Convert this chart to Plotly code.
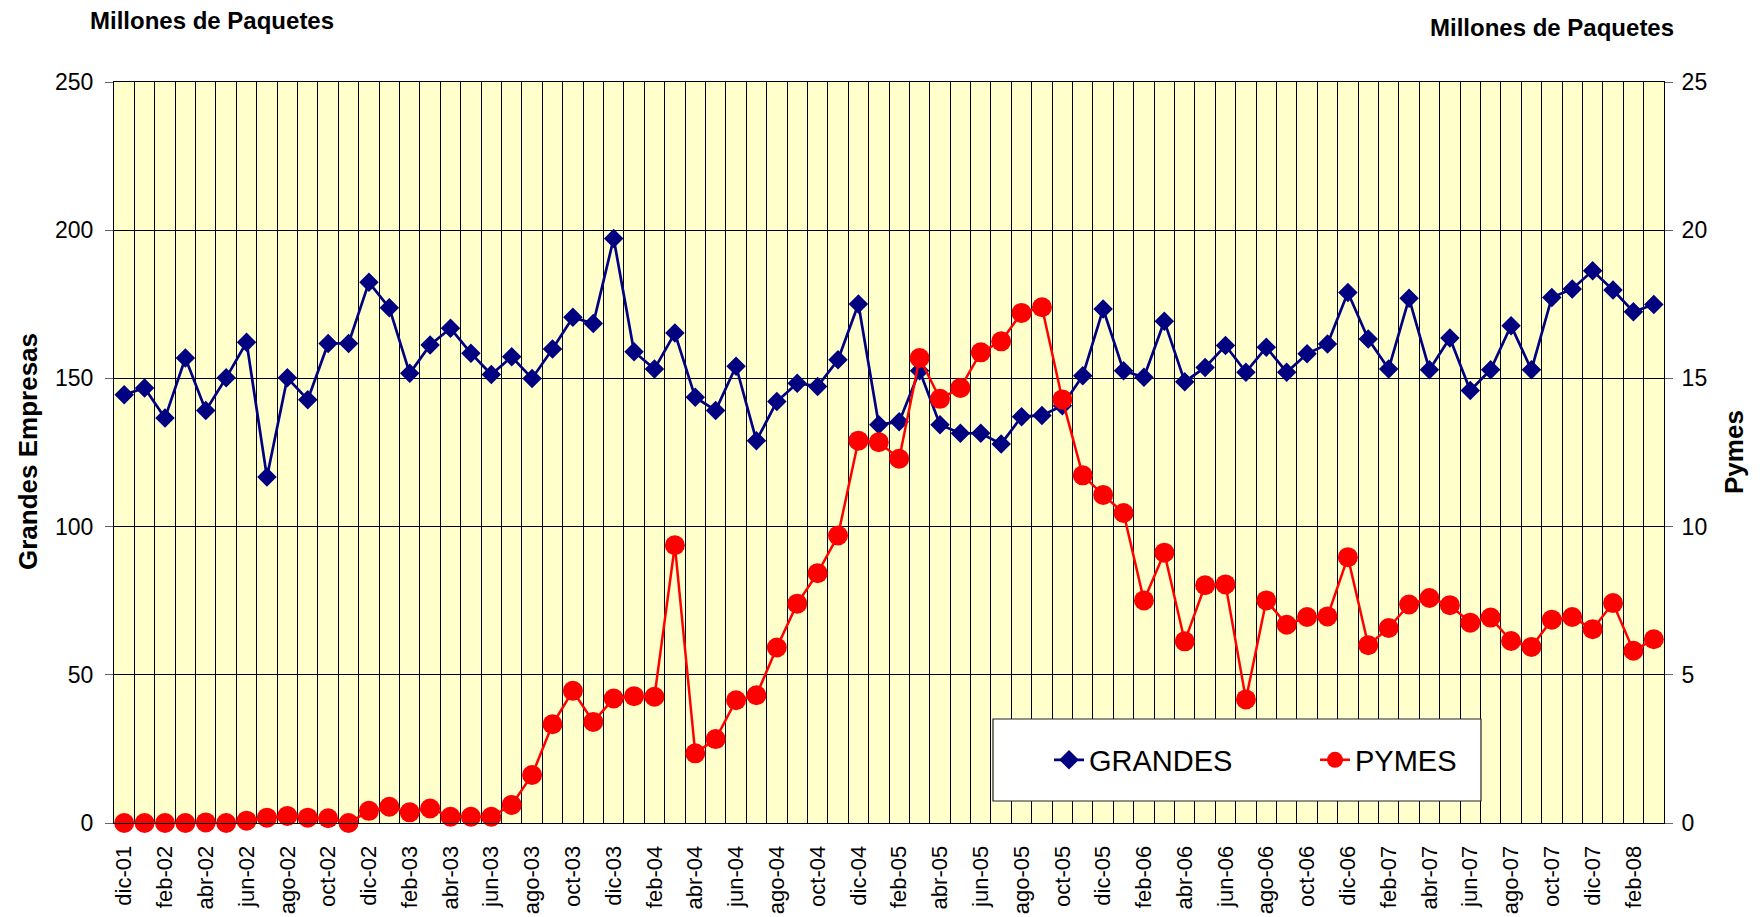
import plotly.graph_objects as go

meses = [
    "dic-01", "ene-02", "feb-02", "mar-02", "abr-02", "may-02", "jun-02", "jul-02", "ago-02", "sep-02", "oct-02", "nov-02",
    "dic-02", "ene-03", "feb-03", "mar-03", "abr-03", "may-03", "jun-03", "jul-03", "ago-03", "sep-03", "oct-03", "nov-03",
    "dic-03", "ene-04", "feb-04", "mar-04", "abr-04", "may-04", "jun-04", "jul-04", "ago-04", "sep-04", "oct-04", "nov-04",
    "dic-04", "ene-05", "feb-05", "mar-05", "abr-05", "may-05", "jun-05", "jul-05", "ago-05", "sep-05", "oct-05", "nov-05",
    "dic-05", "ene-06", "feb-06", "mar-06", "abr-06", "may-06", "jun-06", "jul-06", "ago-06", "sep-06", "oct-06", "nov-06",
    "dic-06", "ene-07", "feb-07", "mar-07", "abr-07", "may-07", "jun-07", "jul-07", "ago-07", "sep-07", "oct-07", "nov-07",
    "dic-07", "ene-08", "feb-08", "mar-08",
]

grandes = [
    144.5, 146.8, 136.6, 156.9, 139.2, 150.2, 162.2, 116.7, 150.2, 142.8, 161.8, 161.8,
    182.4, 173.8, 151.7, 161.3, 166.9, 158.5, 151.3, 157.3, 150.0, 159.9, 170.6, 168.5,
    197.2, 159.0, 153.2, 165.3, 143.6, 139.2, 154.1, 129.0, 142.2, 148.4, 147.3, 156.3,
    175.1, 134.4, 135.4, 152.6, 134.4, 131.5, 131.5, 127.9, 137.1, 137.5, 140.8, 150.9,
    173.4, 152.6, 150.4, 169.3, 148.9, 153.7, 161.1, 152.1, 160.5, 152.1, 158.3, 161.6,
    179.0, 163.3, 153.2, 177.0, 152.9, 163.6, 145.9, 152.9, 167.8, 152.9, 177.3, 180.2,
    186.3, 179.8, 172.5, 174.9,
]

pymes = [
    0.0, 0.0, 0.0, 0.0, 0.02, 0.0, 0.08, 0.18, 0.24, 0.18, 0.16, 0.0,
    0.41, 0.55, 0.36, 0.49, 0.21, 0.21, 0.21, 0.61, 1.62, 3.33, 4.46, 3.41,
    4.20, 4.28, 4.26, 9.37, 2.35, 2.83, 4.14, 4.31, 5.92, 7.40, 8.43, 9.70,
    12.90, 12.85, 12.29, 15.69, 14.31, 14.68, 15.88, 16.25, 17.21, 17.40, 14.29, 11.73,
    11.07, 10.46, 7.51, 9.12, 6.13, 8.02, 8.05, 4.17, 7.51, 6.69, 6.95, 6.97,
    8.97, 6.00, 6.58, 7.37, 7.59, 7.35, 6.76, 6.93, 6.14, 5.94, 6.86, 6.95,
    6.54, 7.42, 5.81, 6.20,
]

FONT = "Liberation Sans, Arial, sans-serif"
n = len(meses)
xs = list(range(n))

fig = go.Figure()
fig.add_trace(go.Scatter(
    x=xs, y=grandes, name="GRANDES", mode="lines+markers",
    line=dict(color="#000080", width=2.7),
    marker=dict(symbol="diamond", size=15, color="#000080"),
    cliponaxis=False, yaxis="y",
))
fig.add_trace(go.Scatter(
    x=xs, y=pymes, name="PYMES", mode="lines+markers",
    line=dict(color="#FF0000", width=2.5),
    marker=dict(symbol="circle", size=20, color="#FF0000"),
    cliponaxis=False, yaxis="y2",
))

# page offset from the default body margin of the html page
OFF = 8
W, H = 1760 - OFF, 917 - OFF
L, R, T, B = 114 - OFF, 96, 82 - OFF, 94
pw, ph = W - L - R, H - T - B

def px_x(px):
    return (px - OFF - L) / pw

def px_y(py):
    return (H - B - (py - OFF)) / ph

fig.update_layout(
    width=W, height=H,
    margin=dict(l=L, r=R, t=T, b=B, pad=0, autoexpand=False),
    paper_bgcolor="white",
    plot_bgcolor="#FFFFCC",
    font=dict(family=FONT, size=23, color="black"),
    showlegend=True,
    legend=dict(
        orientation="h", x=px_x(1315), y=px_y(760), xanchor="center", yanchor="middle",
        bgcolor="rgba(0,0,0,0)", borderwidth=0,
        font=dict(family=FONT, size=29, color="black"),
        entrywidth=221,
    ),
    xaxis=dict(
        range=[-0.5, n - 0.5], automargin=False,
        tickmode="array",
        tickvals=xs[::2], ticktext=meses[::2],
        tickangle=-90,
        ticks="", ticklabelstandoff=13,
        showgrid=False, zeroline=False,
        showline=True, linecolor="black", linewidth=1, mirror=True,
        tickfont=dict(family=FONT, size=22),
        minor=dict(tickvals=[i - 0.5 for i in range(n + 1)], showgrid=True,
                   gridcolor="black", gridwidth=1, ticks=""),
    ),
    xaxis2=dict(
        range=[-0.5, n - 0.5], overlaying="x", anchor="y", side="bottom", automargin=False,
        tickmode="array", tickvals=[i - 0.5 for i in range(0, n + 1, 2)],
        ticks="outside", ticklen=7, tickcolor="#444", tickwidth=1,
        showticklabels=False, showgrid=False, zeroline=False, showline=False,
    ),
    yaxis=dict(
        range=[0, 250], dtick=50, tick0=0, automargin=False,
        ticks="outside", ticklen=8, tickcolor="#666", tickwidth=1, ticklabelstandoff=7,
        showgrid=True, gridcolor="black", gridwidth=1,
        zeroline=False, showline=True, linecolor="black", linewidth=1, mirror=True,
        tickfont=dict(family=FONT, size=23),
    ),
    yaxis2=dict(
        range=[0, 25], dtick=5, tick0=0, overlaying="y", side="right", anchor="x", automargin=False,
        ticks="outside", ticklen=8, tickcolor="#666", tickwidth=1, ticklabelstandoff=4,
        showgrid=False, zeroline=False, showline=True, linecolor="black", linewidth=1,
        tickfont=dict(family=FONT, size=23),
    ),
)

fig.add_shape(
    type="rect", xref="paper", yref="paper",
    x0=px_x(993), x1=px_x(1481), y0=px_y(801), y1=px_y(719),
    fillcolor="white", line=dict(color="#222", width=1.2), layer="above",
)

ann = dict(xref="paper", yref="paper", showarrow=False)
fig.add_annotation(text="<b>Millones de Paquetes</b>", x=px_x(88), y=px_y(20),
                   xanchor="left", yanchor="middle", font=dict(family=FONT, size=24), **ann)
fig.add_annotation(text="<b>Millones de Paquetes</b>", x=px_x(1676), y=px_y(27),
                   xanchor="right", yanchor="middle", font=dict(family=FONT, size=24), **ann)
fig.add_annotation(text="<b>Grandes Empresas</b>", x=px_x(28), y=px_y(452), textangle=-90,
                   xanchor="center", yanchor="middle", font=dict(family=FONT, size=26), **ann)
fig.add_annotation(text="<b>Pymes</b>", x=px_x(1734), y=px_y(452), textangle=-90,
                   xanchor="center", yanchor="middle", font=dict(family=FONT, size=26), **ann)

fig.write_html("out.html")
